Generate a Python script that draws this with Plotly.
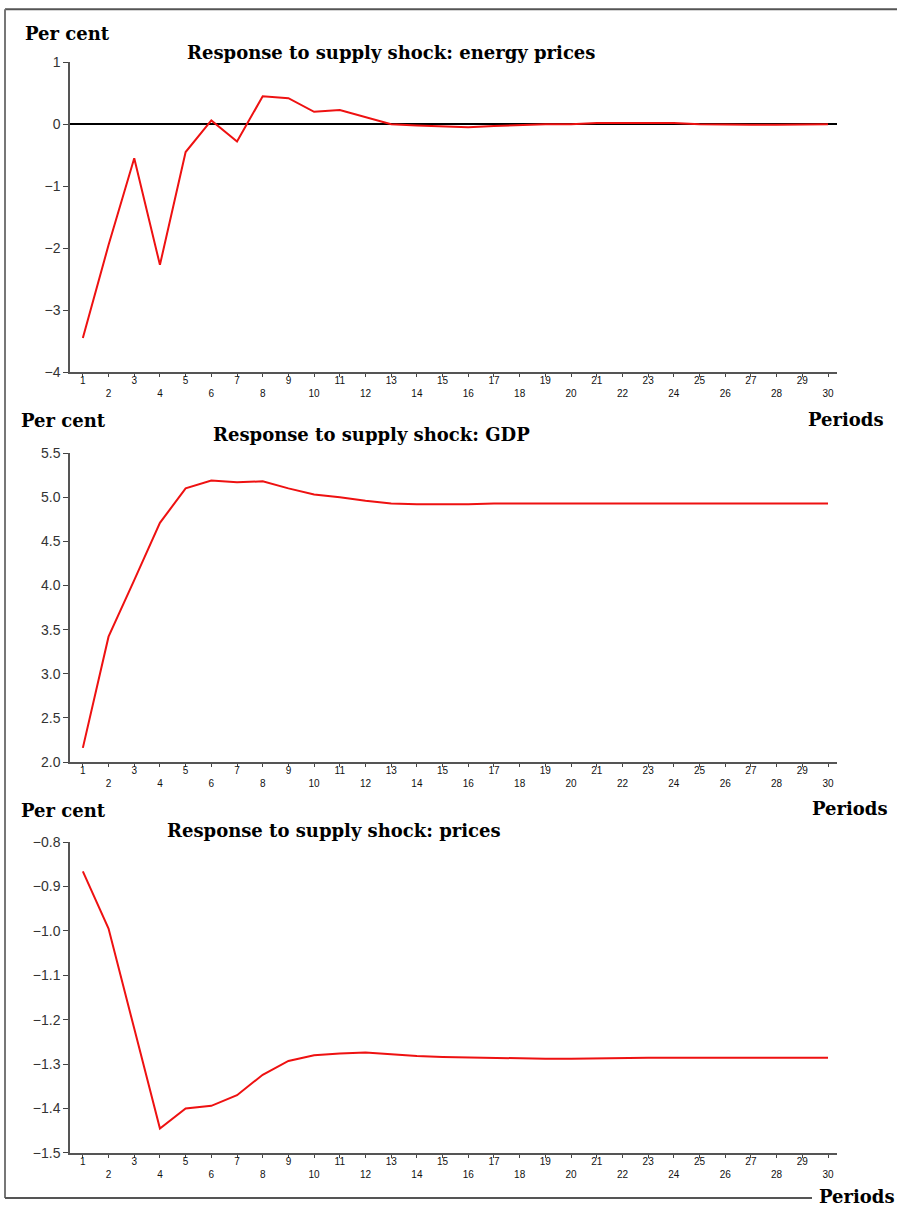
import plotly.graph_objects as go

periods = list(range(1, 31))

energy_prices = [-3.45, -1.95, -0.55, -2.27, -0.45, 0.06, -0.28, 0.45, 0.42, 0.20,
                 0.23, 0.12, 0.00, -0.02, -0.03, -0.05, -0.03, -0.01, 0.00, 0.00,
                 0.02, 0.02, 0.02, 0.02, 0.00, -0.01, -0.01, -0.01, -0.01, 0.00]

gdp = [2.16, 3.42, 4.06, 4.71, 5.10, 5.19, 5.17, 5.18, 5.10, 5.03,
       5.00, 4.96, 4.93, 4.92, 4.92, 4.92, 4.93, 4.93, 4.93, 4.93,
       4.93, 4.93, 4.93, 4.93, 4.93, 4.93, 4.93, 4.93, 4.93, 4.93]

prices = [-0.866, -0.995, -1.22, -1.445, -1.40, -1.394, -1.37, -1.324, -1.293, -1.280,
          -1.276, -1.274, -1.278, -1.282, -1.284, -1.285, -1.287, -1.288, -1.288, -1.288,
          -1.287, -1.286, -1.286, -1.286, -1.286, -1.286, -1.286, -1.286, -1.286, -1.286]

titles = ["Response to supply shock: energy prices",
          "Response to supply shock: GDP",
          "Response to supply shock: prices"]

x_tick_text = [str(p) if p % 2 else "<br>" + str(p) for p in periods]

W, H = 897, 1209
# the photographed page maps figure pixel q to picture pixel 0.987*q + 7.8 vertically
def py(px):
    q = (px - 7.8) / 0.987
    return 1 - q / H
def pxx(px):
    return px / W

fig = go.Figure()
series = [energy_prices, gdp, prices]
domains = [(py(372), py(62)), (py(762), py(453)), (py(1153), py(842))]
yranges = [[-4, 1], [2.0, 5.5], [-1.5, -0.8]]
ydticks = [1, 0.5, 0.1]
yfmt = ["d", ".1f", ".1f"]

for i, s in enumerate(series):
    n = "" if i == 0 else str(i + 1)
    fig.add_trace(go.Scatter(x=periods, y=s, mode="lines",
                             line=dict(color="#ee1111", width=2),
                             xaxis="x" + n, yaxis="y" + n, showlegend=False))
    xa = dict(domain=[pxx(70), pxx(837)], range=[0.5, 30.35], anchor="y" + n,
              showline=True, linecolor="#555555", linewidth=1.5,
              tickmode="array", tickvals=periods, ticktext=x_tick_text,
              ticks="outside", ticklen=3, tickcolor="#444444",
              ticklabelstandoff=-5,
              tickfont=dict(family="Liberation Sans Narrow, Liberation Sans", size=10, color="#111111"),
              showgrid=False, zeroline=False, fixedrange=True)
    ya = dict(domain=list(domains[i]), range=yranges[i], anchor="x" + n,
              showline=True, linecolor="#555555", linewidth=1.5,
              tick0=yranges[i][0], dtick=ydticks[i], tickformat=yfmt[i],
              ticks="outside", ticklen=5, tickcolor="#444444",
              tickfont=dict(family="Liberation Sans", size=14, color="#333333"),
              showgrid=False, zeroline=(i == 0), zerolinecolor="#000000",
              zerolinewidth=1.5, fixedrange=True)
    fig.layout["xaxis" + n] = xa
    fig.layout["yaxis" + n] = ya

serif = dict(family="DejaVu Serif", size=18, color="#000000")
big = dict(family="DejaVu Serif", size=18, color="#000000")

ann = []
def add(text, x, y, font, xanchor="left"):
    ann.append(dict(text="<b>" + text + "</b>", x=pxx(x), y=py(y), xref="paper", yref="paper",
                    showarrow=False, xanchor=xanchor, yanchor="middle", font=font))

add("Per cent", 23, 33, big)
add(titles[0], 391, 52, serif, "center")
add("Per cent", 19, 420, big)
add("Periods", 806, 419, big)
add(titles[1], 371, 434, serif, "center")
add("Per cent", 19, 810, big)
add("Periods", 810, 808, big)
add(titles[2], 334, 830, serif, "center")
add("Periods", 817, 1197, big)

shapes = [
    dict(type="line", xref="paper", yref="paper", x0=pxx(5), x1=pxx(897), y0=py(9), y1=py(9),
         line=dict(color="#555555", width=2)),
    dict(type="line", xref="paper", yref="paper", x0=pxx(5), x1=pxx(5), y0=py(9), y1=py(1198),
         line=dict(color="#777777", width=2)),
    dict(type="line", xref="paper", yref="paper", x0=pxx(5), x1=pxx(812), y0=py(1198), y1=py(1198),
         line=dict(color="#555555", width=2)),
]

fig.update_layout(width=W, height=H, margin=dict(l=0, r=0, t=0, b=0),
                  paper_bgcolor="white", plot_bgcolor="white",
                  annotations=ann, shapes=shapes)

fig.write_html("out.html",
               config={"displayModeBar": False},
               post_script="document.documentElement.style.margin='0';"
                           "document.documentElement.style.padding='0';"
                           "document.body.style.margin='0';document.body.style.padding='0';"
                           "document.body.style.overflow='hidden';"
                           "document.documentElement.style.overflow='hidden';"
                           "var gd=document.getElementById('{plot_id}');"
                           "gd.style.position='fixed';gd.style.top='0px';gd.style.left='0px';")
